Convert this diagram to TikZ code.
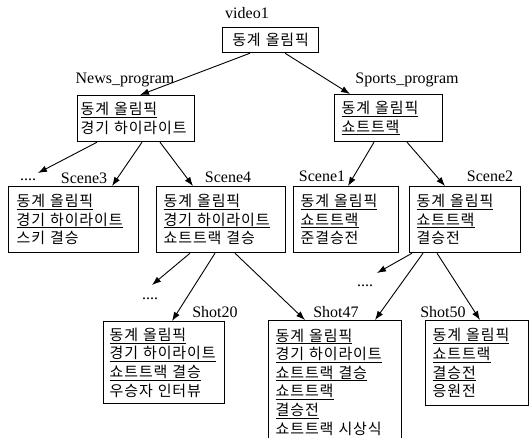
\documentclass[tikz,border=0pt]{standalone}
\usepackage{fontspec}
\setmainfont{Liberation Serif}
\newfontfamily\kr[LetterSpace=6,WordSpace=1.5]{Noto Sans CJK KR}
\usetikzlibrary{arrows.meta}
\newsavebox\ulbox
\newcommand\ulk[1]{\leavevmode\sbox\ulbox{#1}\rlap{\rule[-3pt]{\wd\ulbox}{0.8pt}}\usebox\ulbox}
\newcommand\nb[1]{\mbox{#1}}
\begin{document}
\begin{tikzpicture}[x=1pt,y=-1pt,
  lbl/.style={font=\fontsize{16}{18}\selectfont, inner sep=0pt},
  dotnode/.style={font=\fontsize{16}{18}\selectfont, inner sep=0pt},
  bx/.style={draw, line width=1.2pt, anchor=north west, align=left, inner ysep=0pt,
    font=\kr\fontsize{15}{18.6}\selectfont},
  arr/.style={-{Latex[length=9pt,width=6.5pt]}, line width=0.9pt}
]
\clip (0,0) rectangle (532,437);
% boxes
\node[bx, text width=84pt, inner xsep=6pt, minimum height=25pt, align=center] (v1) at (222,27) {\nb{동계 올림픽}};
\node[bx, text width=111pt, inner xsep=3pt, minimum height=46pt] (news) at (77,95) {\ulk{동계 올림픽}\\\nb{경기 하이라이트}};
\node[bx, text width=94pt, inner xsep=7pt, minimum height=47pt] (sports) at (334,94) {\ulk{동계 올림픽}\\\ulk{쇼트트랙}};
\node[bx, text width=114pt, inner xsep=8pt, minimum height=66pt] (s3) at (8,186) {\ulk{동계 올림픽}\\\ulk{경기 하이라이트}\\\nb{스키 결승}};
\node[bx, text width=115pt, inner xsep=7pt, minimum height=66pt] (s4) at (156,186) {\ulk{동계 올림픽}\\\ulk{경기 하이라이트}\\\nb{쇼트트랙 결승}};
\node[bx, text width=91pt, inner xsep=7pt, minimum height=66pt] (s1) at (293,186) {\ulk{동계 올림픽}\\\ulk{쇼트트랙}\\\nb{준결승전}};
\node[bx, text width=97pt, inner xsep=7pt, minimum height=66pt] (s2) at (409,186) {\ulk{동계 올림픽}\\\ulk{쇼트트랙}\\\nb{결승전}};
\node[bx, text width=109pt, inner xsep=6pt, minimum height=82pt] (sh20) at (103,321) {\ulk{동계 올림픽}\\\ulk{경기 하이라이트}\\\ulk{쇼트트랙 결승}\\\nb{우승자 인터뷰}};
\node[bx, text width=119pt, inner xsep=7pt, inner ysep=8pt] (sh47) at (268,320) {\ulk{동계 올림픽}\\\ulk{경기 하이라이트}\\\ulk{쇼트트랙 결승}\\\ulk{쇼트트랙}\\\ulk{결승전}\\\nb{쇼트트랙 시상식}};
\node[bx, text width=89pt, inner xsep=7pt, minimum height=85pt] (sh50) at (425,320) {\ulk{동계 올림픽}\\\ulk{쇼트트랙}\\\ulk{결승전}\\\nb{응원전}};
% labels
\node[lbl] (lv1) at (247,13) {video1};
\node[lbl] (lnews) at (125,80) {News\_program};
\node[lbl] (lsports) at (407,80) {Sports\_program};
\node[lbl] (ls3) at (84,178) {Scene3};
\node[lbl] (ls4) at (228,177) {Scene4};
\node[lbl] (ls1) at (322,176) {Scene1};
\node[lbl] (ls2) at (490,176) {Scene2};
\node[lbl] (lsh20) at (215,312) {Shot20};
\node[lbl] (lsh47) at (336,312) {Shot47};
\node[lbl] (lsh50) at (443,312) {Shot50};
% dots
\node[dotnode] (dA) at (28,180) {....};
\node[dotnode] (dB) at (150,299) {....};
\node[dotnode] (dC) at (365,286) {....};
% connectors
\draw[arr] ([xshift=28pt]v1.south west) -- ([xshift=63pt]news.north west);
\draw[arr] ([xshift=63pt]v1.south west) -- ([xshift=16pt]sports.north west);
\draw[arr] ([xshift=20pt]news.south west) -- ([xshift=10pt,yshift=7pt]dA.center);
\draw[arr] ([xshift=65pt]news.south west) -- ([xshift=104pt]s3.north west);
\draw[arr] ([xshift=83pt]news.south west) -- ([xshift=37pt]s4.north west);
\draw[arr] ([xshift=40pt]sports.south west) -- ([xshift=55pt]s1.north west);
\draw[arr] ([xshift=73pt]sports.south west) -- ([xshift=36pt]s2.north west);
\draw[arr] ([xshift=34pt]s4.south west) -- ([xshift=2pt,yshift=14pt]dB.center);
\draw[arr] ([xshift=59pt]s4.south west) -- ([xshift=69pt]sh20.north west);
\draw[arr] ([xshift=79pt]s4.south west) -- ([xshift=37pt]sh47.north west);
\draw[arr] ([xshift=3pt]s2.south west) -- ([xshift=12pt,yshift=13pt]dC.center);
\draw[arr] ([xshift=14pt]s2.south west) -- ([xshift=107pt]sh47.north west);
\draw[arr] ([xshift=28pt]s2.south west) -- ([xshift=55pt]sh50.north west);
\end{tikzpicture}
\end{document}
